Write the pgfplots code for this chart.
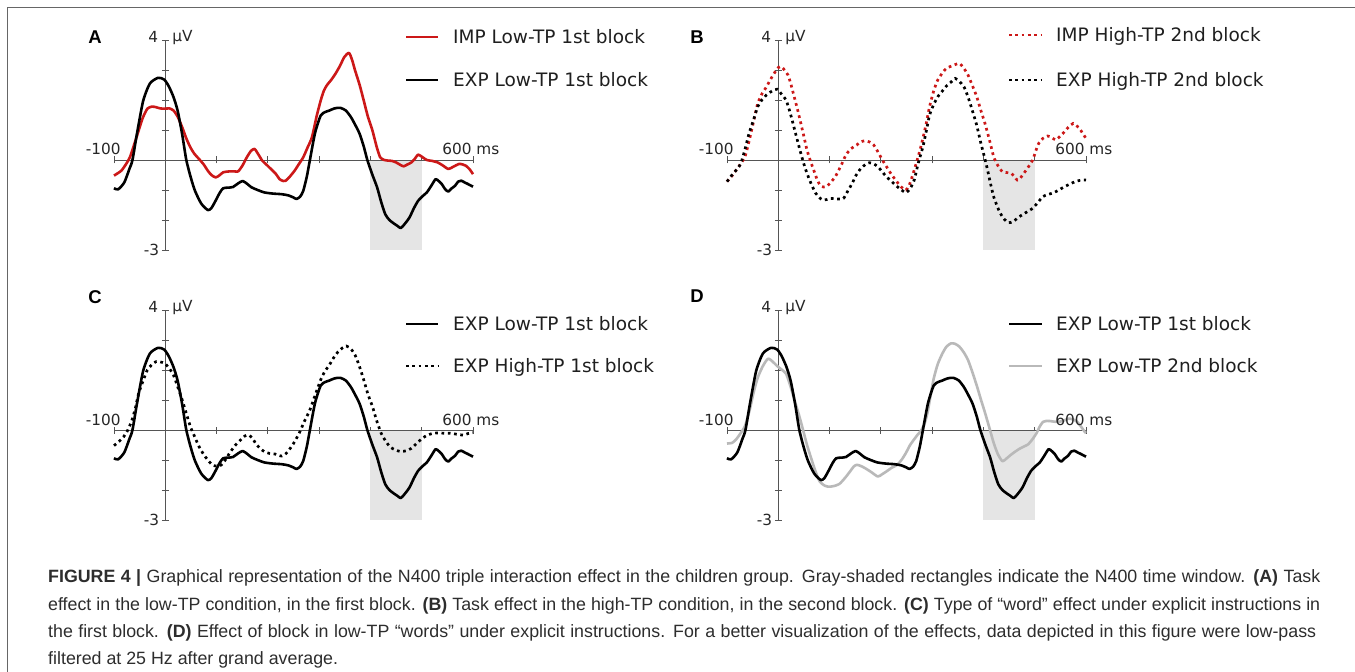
\documentclass[border=0pt]{standalone}
\usepackage{pgfplots}
\usepackage{pgfplotstable}
\pgfplotsset{compat=1.18}
\usepackage{fontspec}
\setmainfont{Liberation Sans}
\newfontfamily\dejavu{DejaVu Sans}
\definecolor{impred}{RGB}{204,24,24}
\definecolor{lightcurve}{RGB}{185,185,185}
\definecolor{nwin}{RGB}{229,229,229}
\definecolor{axgray}{RGB}{85,85,85}
\definecolor{captxt}{RGB}{45,45,45}

% EXP Low-TP 1st block (panels A, C, D)
\pgfplotstableread{
t v
-100 -0.94
-92 -0.98
-80 -0.75
-70 -0.30
-64 0.00
-55 0.90
-43 1.98
-30 2.55
-14 2.74
-2 2.68
7 2.45
16 2.10
24 1.65
33 0.85
41 0.00
50 -0.60
58 -1.03
70 -1.45
83 -1.67
90 -1.60
98 -1.36
106 -1.10
113 -0.94
125 -0.92
132 -0.90
142 -0.78
151 -0.70
160 -0.80
168 -0.91
180 -1.00
193 -1.08
210 -1.12
227 -1.14
240 -1.18
250 -1.25
256 -1.30
263 -1.22
269 -1.03
276 -0.55
282 0.00
292 0.90
303 1.48
312 1.60
320 1.65
330 1.72
341 1.74
352 1.65
362 1.43
371 1.15
379 0.87
387 0.45
394 0.00
404 -0.50
413 -0.91
421 -1.40
429 -1.81
437 -2.00
446 -2.12
453 -2.20
459 -2.27
466 -2.15
476 -1.92
485 -1.60
493 -1.36
502 -1.20
510 -1.08
519 -0.85
527 -0.64
533 -0.70
539 -0.80
546 -0.98
552 -1.05
558 -0.95
565 -0.86
571 -0.72
577 -0.69
584 -0.75
590 -0.80
600 -0.89
}\expLowFirst

% IMP Low-TP 1st block (panel A)
\pgfplotstableread{
t v
-100 -0.52
-86 -0.36
-77 -0.15
-69 0.09
-60 0.55
-52 0.98
-44 1.40
-35 1.71
-26 1.78
-18 1.76
-10 1.72
-1 1.71
8 1.72
16 1.65
24 1.45
33 1.09
41 0.72
49 0.42
57 0.20
66 0.03
75 -0.15
83 -0.36
90 -0.50
98 -0.58
105 -0.52
113 -0.41
125 -0.38
135 -0.38
142 -0.38
150 -0.20
159 0.09
167 0.30
174 0.37
181 0.20
189 -0.02
197 -0.15
206 -0.30
215 -0.45
223 -0.64
230 -0.70
235 -0.69
243 -0.55
252 -0.36
260 -0.15
269 0.09
277 0.40
286 0.76
295 1.45
303 1.98
309 2.30
315 2.49
324 2.68
332 2.88
341 3.15
349 3.43
358 3.57
364 3.35
370 2.99
379 2.50
387 1.98
395 1.45
404 0.98
412 0.45
419 0.09
427 0.00
434 -0.02
442 -0.03
450 -0.08
458 -0.16
465 -0.21
472 -0.15
480 -0.08
487 0.05
493 0.18
501 0.10
510 0.00
520 -0.03
531 -0.08
541 -0.18
552 -0.30
562 -0.22
573 -0.13
580 -0.15
586 -0.19
593 -0.30
600 -0.47
}\impLowFirst

% IMP High-TP 2nd block (panel B)
\pgfplotstableread{
t v
-100 -0.72
-90 -0.52
-82 -0.33
-73 -0.12
-65 0.11
-58 0.55
-52 1.00
-46 1.45
-40 1.89
-32 2.20
-23 2.44
-14 2.72
-6 2.94
0 3.08
6 3.11
12 3.00
19 2.83
25 2.50
31 2.11
38 1.65
44 1.22
50 0.78
56 0.33
63 -0.05
69 -0.33
75 -0.62
81 -0.83
88 -0.90
94 -0.89
102 -0.75
111 -0.56
122 -0.20
132 0.17
142 0.38
153 0.50
160 0.60
169 0.64
178 0.60
186 0.50
195 0.25
203 0.00
211 -0.22
219 -0.44
228 -0.65
236 -0.83
243 -0.95
249 -1.00
255 -0.85
261 -0.56
270 -0.05
278 0.44
287 1.10
295 1.78
303 2.30
311 2.67
320 2.90
328 3.06
341 3.15
353 3.22
362 3.05
370 2.83
378 2.50
387 2.11
395 1.65
403 1.22
412 0.65
420 0.11
428 -0.18
437 -0.39
446 -0.42
454 -0.44
460 -0.55
466 -0.67
472 -0.60
479 -0.44
488 -0.22
496 0.00
502 0.30
508 0.56
516 0.72
525 0.80
533 0.75
541 0.67
550 0.80
558 0.94
566 1.10
575 1.22
581 1.15
587 1.06
593 0.90
600 0.72
}\impHighSecond

% EXP High-TP 2nd block (panel B)
\pgfplotstableread{
t v
-100 -0.72
-88 -0.45
-80 -0.30
-73 -0.11
-65 0.35
-57 0.89
-48 1.35
-40 1.78
-32 2.00
-23 2.17
-12 2.30
-2 2.36
6 2.20
15 2.00
21 1.70
27 1.33
35 0.80
44 0.22
52 -0.25
61 -0.67
67 -0.90
73 -1.11
80 -1.25
86 -1.33
94 -1.32
102 -1.28
115 -1.30
127 -1.28
135 -1.05
144 -0.78
152 -0.50
161 -0.28
170 -0.15
178 -0.09
186 -0.13
194 -0.22
203 -0.40
211 -0.56
220 -0.70
228 -0.83
238 -0.97
249 -1.09
257 -0.95
265 -0.67
273 -0.10
282 0.44
289 1.00
295 1.50
303 1.85
311 2.11
320 2.30
328 2.47
337 2.60
345 2.72
353 2.62
362 2.44
370 2.10
378 1.67
387 1.15
395 0.56
402 0.10
408 -0.33
414 -0.80
420 -1.22
427 -1.55
433 -1.78
441 -1.98
449 -2.09
458 -2.05
470 -1.89
483 -1.75
496 -1.61
506 -1.42
516 -1.22
526 -1.15
537 -1.09
547 -1.00
558 -0.89
569 -0.80
579 -0.72
588 -0.68
596 -0.67
600 -0.67
}\expHighSecond

% EXP High-TP 1st block (panel C)
\pgfplotstableread{
t v
-100 -0.52
-90 -0.38
-81 -0.22
-73 0.00
-65 0.33
-58 0.75
-52 1.22
-43 1.65
-35 2.00
-26 2.18
-18 2.28
-10 2.27
-1 2.22
8 2.05
16 1.83
24 1.45
33 1.00
41 0.55
49 0.11
58 -0.25
66 -0.56
75 -0.82
83 -1.00
92 -1.17
100 -1.20
109 -1.17
117 -1.00
125 -0.78
136 -0.52
147 -0.33
155 -0.20
163 -0.17
170 -0.28
176 -0.44
184 -0.60
193 -0.72
203 -0.78
214 -0.80
220 -0.84
227 -0.87
233 -0.82
239 -0.72
250 -0.45
261 -0.11
271 0.28
282 0.67
292 1.15
303 1.67
311 1.95
320 2.17
328 2.40
337 2.61
345 2.73
353 2.80
362 2.70
370 2.50
378 2.15
387 1.67
395 1.20
404 0.78
412 0.32
421 -0.11
429 -0.35
438 -0.56
448 -0.66
459 -0.72
470 -0.69
480 -0.61
490 -0.45
501 -0.28
510 -0.18
522 -0.11
535 -0.10
546 -0.11
556 -0.11
568 -0.14
581 -0.17
590 -0.12
600 -0.09
}\expHighFirst

% EXP Low-TP 2nd block (panel D)
\pgfplotstableread{
t v
-100 -0.45
-90 -0.43
-82 -0.31
-74 -0.12
-65 0.13
-56 0.65
-48 1.26
-40 1.75
-31 2.10
-24 2.30
-19 2.38
-11 2.28
-2 2.13
6 2.02
15 1.88
23 1.50
31 1.03
40 0.52
48 0.02
56 -0.50
65 -0.99
73 -1.40
81 -1.72
90 -1.85
98 -1.89
108 -1.87
119 -1.80
130 -1.60
140 -1.38
147 -1.22
153 -1.16
161 -1.20
169 -1.27
181 -1.40
194 -1.55
202 -1.48
211 -1.38
222 -1.25
232 -1.16
241 -0.98
249 -0.76
257 -0.50
265 -0.31
272 -0.15
278 -0.03
285 0.20
291 0.58
297 1.15
303 1.71
311 2.20
320 2.55
328 2.78
337 2.89
345 2.87
353 2.78
362 2.58
370 2.33
378 1.95
387 1.48
395 1.02
403 0.58
412 0.05
420 -0.43
428 -0.80
437 -1.04
445 -0.95
454 -0.82
462 -0.72
470 -0.63
479 -0.55
487 -0.48
496 -0.30
504 -0.09
510 0.12
516 0.27
522 0.30
529 0.30
537 0.28
545 0.27
555 0.30
566 0.38
575 0.35
583 0.27
590 0.12
598 -0.07
600 -0.10
}\expLowSecond

\newcommand{\tickf}{\dejavu\fontsize{15.3}{17}\selectfont}
\newcommand{\legf}{\dejavu\fontsize{18.5}{21}\selectfont}

\pgfplotsset{
  erp/.style={
    scale only axis, width=359pt, height=210pt,
    xmin=-100, xmax=600, ymin=-3, ymax=4,
    enlargelimits=false, clip=false,
    axis lines=middle,
    axis line style={draw=axgray, line width=0.9pt, -},
    every inner x axis line/.append style={-},
    every inner y axis line/.append style={-},
    every outer x axis line/.append style={-},
    every outer y axis line/.append style={-},
    xtick={-100,0,100,200,300,400,500,600},
    ytick={-3,-2,-1,0,1,2,3,4},
    xticklabels={}, yticklabels={},
    major tick length=7pt, tick align=center,
    tick style={draw=axgray, line width=0.8pt},
    anchor=south west,
  },
  solidc/.style={line width=2.6pt, smooth, tension=0.4, line join=round},
  dotc/.style={line width=2.7pt, smooth, tension=0.4, dash pattern=on 2.7pt off 3.6pt},
}

\newcommand{\erpdecor}{%
  \addplot[draw=none, fill=nwin] coordinates {(400,-0.03) (500,-0.03) (500,-3) (400,-3)} -- cycle;
}
\newcommand{\erplabels}{%
  \node[anchor=base east, inner sep=0pt, font=\tickf, text=black!85] at (axis cs:0,4) [xshift=-7pt, yshift=-2pt] {4};
  \node[anchor=base west, inner sep=0pt, font=\tickf, text=black!85] at (axis cs:0,4) [xshift=7pt, yshift=-1pt] {µV};
  \node[anchor=east, inner sep=0pt, font=\tickf, text=black!85] at (axis cs:0,-3) [xshift=-6pt] {-3};
  \node[anchor=base, inner sep=0pt, font=\tickf, text=black!85] at (axis cs:-121,0) [yshift=5pt] {-100};
  \node[anchor=base west, inner sep=0pt, font=\tickf, text=black!85] at (axis cs:540,0) [yshift=5pt] {600 ms};
}

\begin{document}
\begin{tikzpicture}[x=1pt,y=1pt]
\path[use as bounding box] (0pt,0pt) rectangle (1355pt,672pt);
\fill[white] (0pt,0pt) rectangle (1355pt,672pt);
\draw[black!60, line width=1.5pt] (7.5pt,0pt) -- (7.5pt,664.5pt) -- (1355pt,664.5pt);

% Panel A
\begin{axis}[erp, at={(114pt,422pt)}]
\erpdecor
\addplot[solidc, impred] table[x=t, y=v] {\impLowFirst};
\addplot[solidc, black] table[x=t, y=v] {\expLowFirst};
\erplabels
\end{axis}

% Panel B
\begin{axis}[erp, at={(727pt,422pt)}]
\erpdecor
\addplot[dotc, impred] table[x=t, y=v] {\impHighSecond};
\addplot[dotc, black] table[x=t, y=v] {\expHighSecond};
\erplabels
\end{axis}

% Panel C
\begin{axis}[erp, at={(114pt,152pt)}]
\erpdecor
\addplot[dotc, black] table[x=t, y=v] {\expHighFirst};
\addplot[solidc, black] table[x=t, y=v] {\expLowFirst};
\erplabels
\end{axis}

% Panel D
\begin{axis}[erp, at={(727pt,152pt)}]
\erpdecor
\addplot[solidc, lightcurve] table[x=t, y=v] {\expLowSecond};
\addplot[solidc, black] table[x=t, y=v] {\expLowFirst};
\erplabels
\end{axis}

% panel letters
\begin{scope}[every node/.style={inner sep=0pt, anchor=base, font=\bfseries\fontsize{18.5}{20}\selectfont}]
\node at (95pt,628.4pt) {A};
\node at (697pt,628.4pt) {B};
\node at (95pt,368.4pt) {C};
\node at (697pt,369.4pt) {D};
\end{scope}

% legends
\begin{scope}[every node/.style={inner sep=0pt, anchor=base west, font=\legf, text=black!88}]
\draw[impred, line width=2.6pt] (406pt,635pt) -- (438pt,635pt);
\node at (453pt,628.3pt) {IMP Low-TP 1st block};
\draw[black, line width=2.6pt] (406pt,592pt) -- (438pt,592pt);
\node at (453pt,585.3pt) {EXP Low-TP 1st block};

\draw[impred, line width=2.7pt, dash pattern=on 2.7pt off 3.6pt] (1009pt,637pt) -- (1042pt,637pt);
\node at (1056pt,630.3pt) {IMP High-TP 2nd block};
\draw[black, line width=2.7pt, dash pattern=on 2.7pt off 3.6pt] (1009pt,592pt) -- (1042pt,592pt);
\node at (1056pt,585.3pt) {EXP High-TP 2nd block};

\draw[black, line width=2.6pt] (406pt,348pt) -- (438pt,348pt);
\node at (453pt,341.3pt) {EXP Low-TP 1st block};
\draw[black, line width=2.7pt, dash pattern=on 2.7pt off 3.6pt] (406pt,306pt) -- (438pt,306pt);
\node at (453pt,299.3pt) {EXP High-TP 1st block};

\draw[black, line width=2.6pt] (1009pt,348pt) -- (1042pt,348pt);
\node at (1056pt,341.3pt) {EXP Low-TP 1st block};
\draw[lightcurve, line width=2.6pt] (1009pt,306pt) -- (1042pt,306pt);
\node at (1056pt,299.3pt) {EXP Low-TP 2nd block};
\end{scope}

% caption (justified lines)
\begin{scope}[every node/.style={inner sep=0pt, anchor=base west, font=\fontsize{17.8}{21}\selectfont, text=captxt}]
\node at (48pt,89.5pt) {\makebox[1272pt][s]{\textbf{FIGURE 4 |} Graphical representation of the N400 triple interaction effect in the children group. Gray-shaded rectangles indicate the N400 time window. \textbf{(A)} Task}};
\node at (48pt,61.5pt) {\makebox[1272pt][s]{effect in the low-TP condition, in the first block. \textbf{(B)} Task effect in the high-TP condition, in the second block. \textbf{(C)} Type of “word” effect under explicit instructions in}};
\node at (48pt,34.5pt) {\makebox[1268pt][s]{the first block. \textbf{(D)} Effect of block in low-TP “words” under explicit instructions. For a better visualization of the effects, data depicted in this figure were low-pass}};
\node at (48pt,7.5pt) {filtered at 25 Hz after grand average.};
\end{scope}
\end{tikzpicture}
\end{document}
